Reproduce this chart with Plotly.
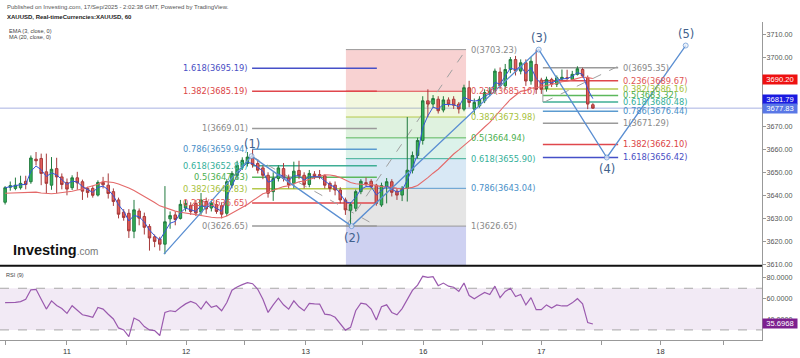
import plotly.graph_objects as go
import pandas as pd

# ---------------- data ----------------
bar_index = list(range(115))
opens = [3637.0, 3643.5, 3643.0, 3643.3, 3646.1, 3645.9, 3655.7, 3656.0, 3650.2, 3644.4,
         3651.6, 3648.0, 3645.6, 3643.3, 3647.6, 3645.9, 3643.0, 3643.0, 3640.1, 3645.6,
         3644.4, 3641.6, 3638.0, 3632.7, 3632.2, 3624.4, 3633.2, 3630.8, 3626.5, 3622.0,
         3621.0, 3618.8, 3629.8, 3631.5, 3630.0, 3634.5, 3635.5, 3636.5, 3632.7, 3637.3,
         3634.5, 3636.0, 3635.5, 3632.2, 3644.4, 3648.7, 3652.3, 3653.8, 3656.2, 3653.8,
         3651.9, 3648.7, 3641.6, 3647.3, 3651.6, 3647.5, 3645.2, 3650.8, 3648.7, 3644.7,
         3649.2, 3649.0, 3648.5, 3645.2, 3644.4, 3642.3, 3638.0, 3633.5, 3634.4, 3641.6,
         3645.5, 3646.1, 3644.4, 3635.8, 3643.7, 3645.9, 3641.8, 3640.1, 3643.0, 3650.9,
         3657.3, 3663.8, 3681.0, 3679.6, 3681.7, 3677.0, 3681.4, 3681.7, 3679.6, 3677.4,
         3686.7, 3677.4, 3678.8, 3681.0, 3684.3, 3685.3, 3693.5, 3687.5, 3694.6, 3698.9,
         3693.9, 3697.5, 3689.6, 3696.8, 3690.0, 3686.3, 3690.3, 3688.2, 3690.5, 3691.0,
         3690.3, 3692.5, 3694.6, 3691.0, 3679.3]
highs = [3644.0, 3646.0, 3647.7, 3648.5, 3648.5, 3657.3, 3658.8, 3658.1, 3658.1, 3656.6,
         3656.3, 3649.5, 3647.3, 3648.7, 3650.2, 3646.8, 3643.7, 3644.0, 3646.5, 3648.0,
         3649.5, 3643.0, 3639.0, 3634.0, 3634.0, 3638.0, 3634.3, 3632.5, 3627.5, 3623.0,
         3622.0, 3644.0, 3633.0, 3633.0, 3638.0, 3638.0, 3637.0, 3638.0, 3641.0, 3639.0,
         3637.5, 3638.0, 3637.0, 3647.0, 3650.5, 3655.0, 3656.5, 3658.8, 3659.9, 3655.0,
         3653.0, 3650.0, 3650.0, 3653.0, 3654.0, 3649.0, 3654.6, 3655.0, 3650.0, 3651.0,
         3650.5, 3651.0, 3649.0, 3646.0, 3646.0, 3643.5, 3639.0, 3637.0, 3642.5, 3647.0,
         3647.7, 3647.0, 3645.0, 3645.5, 3647.5, 3647.0, 3643.0, 3644.0, 3674.0, 3659.0,
         3665.0, 3683.0, 3686.0, 3683.5, 3683.0, 3683.0, 3682.5, 3683.0, 3680.5, 3688.0,
         3689.7, 3682.0, 3683.0, 3686.0, 3687.0, 3695.0, 3695.5, 3697.0, 3700.0, 3700.5,
         3699.0, 3699.0, 3700.0, 3703.23, 3691.0, 3691.5, 3691.0, 3692.0, 3694.6, 3694.5,
         3694.0, 3696.0, 3695.35, 3692.0, 3680.0]
lows = [3636.0, 3642.0, 3642.2, 3642.5, 3642.6, 3645.0, 3653.0, 3644.4, 3640.9, 3642.4,
        3640.9, 3642.6, 3640.0, 3642.3, 3642.4, 3638.0, 3639.0, 3639.0, 3639.5, 3643.0,
        3638.6, 3635.4, 3630.0, 3629.0, 3621.5, 3621.4, 3627.0, 3623.0, 3616.0, 3617.5,
        3616.0, 3614.5, 3625.5, 3627.0, 3629.5, 3633.0, 3631.5, 3631.0, 3631.5, 3632.0,
        3633.0, 3632.0, 3630.0, 3631.0, 3643.0, 3647.0, 3651.0, 3652.5, 3652.0, 3649.5,
        3647.0, 3639.0, 3637.6, 3646.0, 3646.0, 3643.0, 3643.0, 3647.0, 3643.0, 3643.5,
        3647.0, 3647.0, 3643.0, 3641.5, 3640.0, 3636.5, 3631.5, 3626.65, 3633.0, 3640.5,
        3644.0, 3643.0, 3635.5, 3635.0, 3636.5, 3639.5, 3638.0, 3637.5, 3637.3, 3649.5,
        3656.0, 3662.0, 3674.0, 3678.0, 3675.5, 3676.0, 3678.5, 3677.5, 3675.5, 3676.5,
        3678.2, 3675.0, 3678.0, 3680.0, 3683.0, 3684.0, 3686.0, 3686.0, 3693.0, 3692.0,
        3692.5, 3687.5, 3688.0, 3684.0, 3684.0, 3685.0, 3687.0, 3687.0, 3690.0, 3690.0,
        3690.0, 3692.0, 3691.0, 3677.4, 3677.5]
closes = [3643.3, 3644.2, 3644.4, 3645.2, 3644.7, 3656.2, 3655.0, 3649.5, 3645.2, 3651.3,
          3648.0, 3644.7, 3642.7, 3647.6, 3645.4, 3641.8, 3641.2, 3640.0, 3645.6, 3644.6,
          3640.8, 3637.3, 3631.8, 3630.4, 3624.6, 3633.7, 3630.1, 3626.1, 3621.5, 3620.0,
          3618.8, 3628.5, 3631.2, 3629.5, 3636.1, 3636.5, 3633.0, 3632.3, 3638.0, 3634.1,
          3636.5, 3633.0, 3631.8, 3645.9, 3649.5, 3653.0, 3655.2, 3656.6, 3653.3, 3650.9,
          3648.7, 3640.9, 3647.3, 3651.9, 3647.3, 3644.5, 3650.5, 3648.5, 3644.7, 3649.5,
          3648.2, 3648.0, 3644.4, 3643.0, 3642.3, 3638.0, 3633.7, 3636.0, 3641.6, 3646.1,
          3645.0, 3643.7, 3636.5, 3644.2, 3645.9, 3641.3, 3640.1, 3643.0, 3650.9, 3657.3,
          3663.8, 3681.0, 3679.6, 3682.0, 3676.7, 3681.4, 3679.6, 3679.1, 3677.5, 3686.7,
          3680.3, 3680.3, 3681.7, 3684.6, 3685.3, 3693.9, 3687.5, 3694.6, 3698.9, 3693.9,
          3697.5, 3689.6, 3698.2, 3686.0, 3686.0, 3690.3, 3688.2, 3691.0, 3691.2, 3690.8,
          3692.5, 3694.9, 3691.8, 3679.6, 3677.83]
rsi9 = [56.3, 56.3, 56.5, 57.2, 59.5, 68.5, 69.0, 59.5, 50.0, 57.9,
        53.5, 50.5, 45.9, 53.2, 48.5, 44.6, 43.5, 42.1, 51.6, 50.0,
        45.0, 40.5, 31.9, 30.0, 23.6, 41.4, 38.9, 33.2, 30.0, 29.4,
        24.6, 46.8, 48.4, 47.5, 51.6, 55.0, 57.3, 55.4, 50.0, 57.3,
        51.6, 53.2, 48.4, 56.3, 68.1, 71.3, 73.5, 75.4, 74.4, 69.0,
        59.5, 46.8, 54.1, 60.5, 54.1, 50.0, 57.9, 52.2, 48.4, 55.4,
        55.0, 54.8, 45.2, 44.5, 42.1, 36.0, 29.8, 32.5, 48.4, 55.7,
        54.8, 50.0, 39.5, 52.2, 54.1, 46.8, 44.5, 50.5, 60.0, 68.0,
        73.0, 81.5, 80.5, 81.2, 72.5, 75.0, 72.0, 71.0, 67.0, 75.0,
        63.0, 60.0, 63.0, 66.0, 64.0, 72.0, 61.0, 67.0, 70.0, 62.0,
        64.0, 54.0, 61.0, 49.5, 49.5, 54.0, 51.0, 54.0, 53.0, 53.0,
        56.0, 60.0, 55.0, 37.0, 35.6968]
# MA(20) for the first 19 bars (its history lies before the visible window)
ma20_early = [3640.9, 3641.0, 3641.2, 3641.4, 3641.5, 3641.6, 3641.4, 3641.0, 3640.8, 3640.7,
              3640.9, 3641.2, 3641.3, 3641.8, 3642.3, 3642.7, 3643.5, 3644.2, 3644.8]

# right-axis readouts
ma_readout = 3690.20
ema_readout = 3681.79
last_readout = 3677.83
rsi_readout = 35.6968

# Elliott wave drawing
wave_bars = [30.8, 47.8, 67.2, 103.5, 116.7, 132.0]
wave_prices = [3614.5, 3657.0, 3626.65, 3703.23, 3656.42, 3705.0]
wave_labels = ["", "(1)", "(2)", "(3)", "(4)", "(5)"]
wave_label_side = [0, 1, -1, 1, -1, 1]

# Fibonacci drawings: price at level 0, price at level 1, bar span
fibA_prices = [3626.65, 3669.01]
fibA_bars = [47.9, 72.1]
fibA_levels = [0, 0.236, 0.382, 0.5, 0.618, 0.786, 1, 1.382, 1.618]
fibB_prices = [3703.23, 3626.65]
fibB_bars = [66.1, 89.4]
fibB_levels = [0, 0.236, 0.382, 0.5, 0.618, 0.786, 1, 1.618]
fibC_prices = [3695.35, 3671.29]
fibC_bars = [104.3, 118.9]
fibC_levels = [0, 0.236, 0.382, 0.5, 0.618, 0.786, 1, 1.382, 1.618]

# dashed fib trend lines (bar, price) pairs
trendA = [(47.8, 3657.0), (72.1, 3626.65)]
trendB = [(66.1, 3626.65), (89.4, 3703.23)]
trendC = [(104.6, 3680.5), (118.9, 3696.0)]

# axes
price_ticks = list(range(3610, 3711, 10))
price_tick_hidden = [3680, 3690]   # covered by the readout boxes in the reference
rsi_ticks = [40, 60, 80]
time_tick_pos = [0, 12, 23.6, 35.1, 46.5, 58.3, 69.4, 81.1, 92.5, 104, 115.6, 127.1, 139.4]
time_tick_labels = ["13:00", "11", "", "12", "", "13", "", "16", "", "17", "", "18", ""]

# ---------------- derived indicators ----------------
cs = pd.Series(closes)
ema3 = cs.ewm(span=3, adjust=False).mean().tolist()
ma20 = cs.rolling(20).mean().tolist()
ma20 = ma20_early + ma20[len(ma20_early):]

# ---------------- geometry helpers ----------------
PW, PH = 762.0, 358.0
def px(x):
    return x / PW
def py(y):
    return 1 - y / PH

price_range = [3609.44, 3715.29]
rsi_range = [20.48, 91.62]

line_col = {0: '#9a9a9a', 0.236: '#e0474c', 0.382: '#b6c94c', 0.5: '#5cb85c', 0.618: '#3fae95',
            0.786: '#5b9bd0', 1: '#9a9a9a', 1.382: '#e0474c', 1.618: '#4650c8'}
text_col = {0: '#8a8a8a', 0.236: '#e05555', 0.382: '#a8c23c', 0.5: '#4caf50', 0.618: '#35b09a',
            0.786: '#4a90c8', 1: '#8a8a8a', 1.382: '#dc4545', 1.618: '#4a4fc4'}
fill_col = {0.236: 'rgba(230,90,90,0.27)', 0.382: 'rgba(195,220,110,0.22)', 0.5: 'rgba(110,195,110,0.22)',
            0.618: 'rgba(80,190,150,0.2)', 0.786: 'rgba(100,165,215,0.25)', 1: 'rgba(150,150,150,0.25)',
            1.618: 'rgba(80,90,205,0.28)'}

def fib_price(prices, lvl):
    return prices[0] + lvl * (prices[1] - prices[0])

def lvl_text(prices, lvl):
    return "%s(%.2f)" % (format(lvl, 'g'), fib_price(prices, lvl))

fig = go.Figure()
shapes = []
annos = []

# fib B fills
for k in range(len(fibB_levels) - 1):
    la, lb = fibB_levels[k], fibB_levels[k + 1]
    shapes.append(dict(type='rect', xref='x', yref='y', x0=fibB_bars[0], x1=fibB_bars[1],
                       y0=fib_price(fibB_prices, la), y1=fib_price(fibB_prices, lb),
                       fillcolor=fill_col[lb], line_width=0, layer='below'))

def add_fib(prices, bars, levels, side, width=1.4):
    for lvl in levels:
        p = fib_price(prices, lvl)
        shapes.append(dict(type='line', xref='x', yref='y', x0=bars[0], x1=bars[1], y0=p, y1=p,
                           line=dict(color=line_col[lvl], width=width), layer='below'))
        if price_range[0] < p < price_range[1]:
            if side == 'left':
                annos.append(dict(x=bars[0] - 0.35, y=p, xref='x', yref='y', text=lvl_text(prices, lvl),
                                  xanchor='right', yanchor='middle', showarrow=False,
                                  font=dict(family='DejaVu Sans', size=8.3, color=text_col[lvl])))
            else:
                annos.append(dict(x=bars[1] + 0.5, y=p, xref='x', yref='y', text=lvl_text(prices, lvl),
                                  xanchor='left', yanchor='middle', showarrow=False,
                                  font=dict(family='DejaVu Sans', size=8.3, color=text_col[lvl])))

add_fib(fibB_prices, fibB_bars, fibB_levels, 'right', 1.0)
add_fib(fibA_prices, fibA_bars, fibA_levels, 'left', 1.5)
add_fib(fibC_prices, fibC_bars, fibC_levels, 'right', 1.5)

for tl in (trendA, trendB, trendC):
    shapes.append(dict(type='line', xref='x', yref='y', x0=tl[0][0], y0=tl[0][1], x1=tl[1][0], y1=tl[1][1],
                       line=dict(color='#a0a0a0', width=1, dash='dash'), layer='below'))
shapes.append(dict(type='line', xref='x', yref='y', x0=trendC[0][0] - 0.3, x1=trendC[0][0] - 0.3,
                   y0=fib_price(fibC_prices, 0.236), y1=trendC[0][1],
                   line=dict(color='#a0a0a0', width=1), layer='below'))

# current price line
shapes.append(dict(type='line', xref='paper', yref='y', x0=0, x1=1, y0=last_readout, y1=last_readout,
                   line=dict(color='rgba(110,125,205,0.6)', width=1), layer='below'))

# RSI band
shapes.append(dict(type='rect', xref='paper', yref='y2', x0=0, x1=1, y0=30, y1=70,
                   fillcolor='rgba(150,80,170,0.12)', line_width=0, layer='below'))
for lv in (30, 70):
    shapes.append(dict(type='line', xref='paper', yref='y2', x0=0, x1=1, y0=lv, y1=lv,
                       line=dict(color='#a8a8a8', width=1, dash='dash'), layer='below'))

# panel separator
shapes.append(dict(type='line', xref='paper', yref='paper', x0=0, x1=1, y0=py(268), y1=py(268),
                   line=dict(color='#111111', width=2)))

# ---------------- traces ----------------
fig.add_trace(go.Candlestick(
    x=bar_index, open=opens, high=highs, low=lows, close=closes,
    increasing=dict(fillcolor='#33b35a', line=dict(color='#217a3e', width=1)),
    decreasing=dict(fillcolor='#e35d5b', line=dict(color='#a63a3a', width=1)),
    whiskerwidth=0, hoverinfo='skip', xaxis='x', yaxis='y'))
fig.add_trace(go.Scatter(x=bar_index, y=ma20, mode='lines', line=dict(color='#e46a6a', width=1.1),
                         hoverinfo='skip', xaxis='x', yaxis='y'))
fig.add_trace(go.Scatter(x=bar_index, y=ema3, mode='lines', line=dict(color='#3556d8', width=1),
                         hoverinfo='skip', xaxis='x', yaxis='y'))
fig.add_trace(go.Scatter(x=wave_bars, y=wave_prices, mode='lines+markers',
                         line=dict(color='#5b8fd2', width=1.3),
                         marker=dict(size=[0, 5, 5, 5, 5, 5], color='#e8eef8', line=dict(color='#5b8fd2', width=1)),
                         hoverinfo='skip', xaxis='x', yaxis='y'))
fig.add_trace(go.Scatter(x=bar_index, y=rsi9, mode='lines', line=dict(color='#9a5aae', width=1.2),
                         hoverinfo='skip', xaxis='x', yaxis='y2'))

# wave labels
for b, p, t, s in zip(wave_bars, wave_prices, wave_labels, wave_label_side):
    if t:
        annos.append(dict(x=b, y=p, xref='x', yref='y', text=t, showarrow=False,
                          yshift=12 * s, xanchor='center', yanchor='middle',
                          font=dict(family='DejaVu Sans', size=11.5, color='#41618c')))

# right axis readouts
def readout(val, yref, text, bg):
    annos.append(dict(x=1.0, y=val, xref='paper', yref=yref, text=text, showarrow=False,
                      xanchor='left', yanchor='middle', bgcolor=bg, width=34, height=9, borderpad=0,
                      font=dict(family='Liberation Sans', size=7.6, color='white')))
readout(ma_readout, 'y', '%.2f' % ma_readout, '#ee1111')
readout(ema_readout, 'y', '%.2f' % ema_readout, '#1a1ae0')
readout(last_readout, 'y', '%.2f' % last_readout, '#5a78e6')
readout(rsi_readout, 'y2', '%.4f' % rsi_readout, '#7d1f8f')

# header texts
def txt(x, y, text, size, color, family='Liberation Sans'):
    annos.append(dict(x=px(x), y=py(y), xref='paper', yref='paper', text=text, showarrow=False,
                      xanchor='left', yanchor='middle', font=dict(family=family, size=size, color=color)))
txt(5, 7, 'Published on Investing.com, 17/Sep/2025 - 2:02:38 GMT, Powered by TradingView.', 6, '#555555')
txt(5, 17, '<b>XAUUSD, Real-timeCurrencies:XAUUSD, 60</b>', 6, '#222222')
txt(7, 31, 'EMA (3, close, 0)', 5.6, '#444444')
txt(7, 37, 'MA (20, close, 0)', 5.6, '#444444')
txt(4, 277, 'RSI (9)', 5.6, '#444444')
txt(11, 252, '<b>Investing</b><span style="font-size:10px;color:#777777;">.com</span>', 14.5, '#111111')

fig.update_layout(
    width=800, height=358, autosize=False,
    margin=dict(l=0, r=38, t=0, b=0),
    paper_bgcolor='white', plot_bgcolor='white',
    showlegend=False, hovermode=False,
    shapes=shapes, annotations=annos,
    xaxis=dict(domain=[0, 1], range=[-0.99, 146.8], anchor='y2', showgrid=False, zeroline=False,
               rangeslider=dict(visible=False), tickmode='array', tickvals=time_tick_pos,
               ticktext=time_tick_labels, ticks='outside', ticklen=4, tickcolor='#999999',
               showline=True, linecolor='#999999', linewidth=1,
               tickfont=dict(family='Liberation Sans', size=7.5, color='#333333')),
    yaxis=dict(domain=[py(268), py(22)], range=price_range, side='right', anchor='x',
               showgrid=False, zeroline=False, tickmode='array', tickvals=price_ticks,
               ticktext=['' if v in price_tick_hidden else '%.2f' % v for v in price_ticks],
               ticks='outside', ticklen=3, ticklabelstandoff=-1,
               tickcolor='#999999', showline=True, linecolor='#999999', linewidth=1,
               tickfont=dict(family='Liberation Sans', size=7.2, color='#555555')),
    yaxis2=dict(domain=[py(342.7), py(268)], range=rsi_range, side='right', anchor='x',
                showgrid=False, zeroline=False, tickmode='array', tickvals=rsi_ticks,
                ticktext=['%.4f' % v for v in rsi_ticks], ticks='outside', ticklen=3,
                ticklabelstandoff=-1,
                tickcolor='#999999', showline=True, linecolor='#999999', linewidth=1,
                tickfont=dict(family='Liberation Sans', size=7.2, color='#555555')),
)

fig.write_html("out.html", config={'displayModeBar': False},
               post_script="document.body.style.margin='0px';document.body.style.padding='0px';document.body.style.overflow='hidden';")
